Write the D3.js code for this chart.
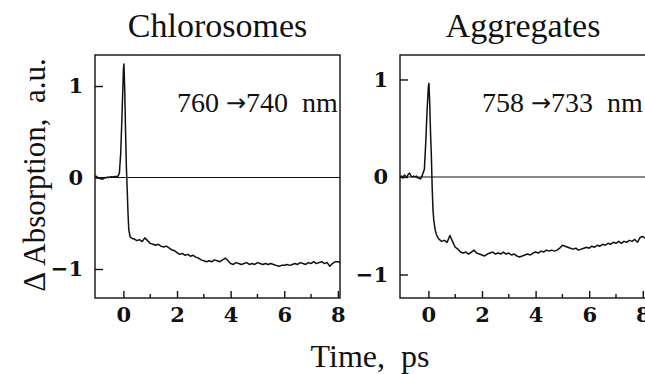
<!DOCTYPE html>
<html>
<head>
<meta charset="utf-8">
<script src="https://cdn.jsdelivr.net/npm/d3@7"></script>
<style>
  body { margin: 0; background: white; }
  text { font-family: 'Liberation Serif', 'Times New Roman', serif; fill: #111; }
  .tick text { font-family: 'DejaVu Serif', serif; }
</style>
</head>
<body>
<svg id="chart" width="645" height="374"></svg>
<script>
// delay times, ps (shared by both traces)
const time_ps = [
  -1.05, -1.0, -0.95, -0.9, -0.85, -0.8, -0.75, -0.7, -0.65, -0.6,
  -0.55, -0.5, -0.45, -0.4, -0.35, -0.3, -0.25, -0.2, -0.15, -0.1,
  -0.05,
  0, 0.02, 0.05, 0.08, 0.11, 0.14, 0.17, 0.2, 0.25, 0.3, 0.35,
  0.4, 0.5, 0.6, 0.7, 0.8, 0.9, 1.0, 1.1, 1.2, 1.3,
  1.4, 1.5, 1.6, 1.7, 1.8, 1.9, 2.0, 2.1, 2.2, 2.3,
  2.4, 2.5, 2.6, 2.7, 2.8, 2.9, 3.0, 3.1, 3.2, 3.3,
  3.4, 3.5, 3.6, 3.7, 3.8, 3.9, 4.0, 4.1, 4.2, 4.3,
  4.4, 4.5, 4.6, 4.7, 4.8, 4.9, 5.0, 5.1, 5.2, 5.3,
  5.4, 5.5, 5.6, 5.7, 5.8, 5.9, 6.0, 6.1, 6.2, 6.3,
  6.4, 6.5, 6.6, 6.7, 6.8, 6.9, 7.0, 7.1, 7.2, 7.3,
  7.4, 7.5, 7.6, 7.7, 7.8, 7.9, 8.0, 8.1
]

// chlorosomes, 760 -> 740 nm
const chlorosomes = [
  0.02, 0.01, 0.0, -0.01, -0.01, -0.02, -0.015, 0.0, -0.005, 0.005,
  0.0, 0.005, 0.01, 0.005, 0.01, 0.01, 0.012, 0.015, 0.05, 0.27,
  0.7,
  1.18, 1.24, 0.95, 0.5, 0.12, -0.12, -0.38, -0.57, -0.65, -0.66, -0.67,
  -0.67, -0.69, -0.68, -0.70, -0.66, -0.69, -0.72, -0.73, -0.74, -0.73,
  -0.75, -0.76, -0.75, -0.77, -0.79, -0.80, -0.82, -0.84, -0.83, -0.85,
  -0.84, -0.86, -0.85, -0.87, -0.88, -0.90, -0.91, -0.92, -0.91, -0.92,
  -0.90, -0.91, -0.92, -0.90, -0.88, -0.91, -0.94, -0.95, -0.93, -0.94,
  -0.95, -0.94, -0.93, -0.95, -0.94, -0.95, -0.93, -0.94, -0.95, -0.94,
  -0.95, -0.94, -0.95, -0.96, -0.97, -0.96, -0.96, -0.95, -0.96, -0.95,
  -0.94, -0.95, -0.93, -0.94, -0.95, -0.93, -0.94, -0.92, -0.94, -0.93,
  -0.92, -0.94, -0.93, -0.97, -0.94, -0.92, -0.92, -0.93
]

// aggregates, 758 -> 733 nm
const aggregates = [
  0.0, 0.01, -0.01, 0.02, 0.01, 0.0, 0.03, 0.04, 0.01, 0.0,
  0.01, 0.0, 0.01, -0.01, -0.01, -0.02, 0.0, 0.04, 0.08, 0.35,
  0.68,
  0.93, 0.96, 0.75, 0.45, 0.22, -0.1, -0.33, -0.44, -0.54, -0.59, -0.62,
  -0.64, -0.66, -0.65, -0.67, -0.60, -0.66, -0.72, -0.74, -0.77, -0.78,
  -0.77, -0.79, -0.77, -0.75, -0.78, -0.79, -0.80, -0.81, -0.79, -0.78,
  -0.77, -0.79, -0.78, -0.79, -0.77, -0.79, -0.78, -0.80, -0.79, -0.81,
  -0.82, -0.81, -0.80, -0.79, -0.80, -0.78, -0.77, -0.78, -0.76, -0.77,
  -0.75, -0.76, -0.75, -0.76, -0.75, -0.73, -0.70, -0.71, -0.72, -0.73,
  -0.74, -0.73, -0.75, -0.74, -0.73, -0.72, -0.73, -0.71, -0.72, -0.70,
  -0.71, -0.69, -0.70, -0.68, -0.69, -0.67, -0.68, -0.66, -0.68, -0.66,
  -0.67, -0.65, -0.66, -0.64, -0.67, -0.62, -0.61, -0.63
]

const x_major = [0, 2, 4, 6, 8]
const x_minor = [1, 3, 5, 7]
const y_ticks = [-1, 0, 1]

const svg = d3.select("#chart")
svg.append("rect").attr("width", 645).attr("height", 374).attr("fill", "white")

function drawPanel(p){
  let g = svg.append("g").attr("transform", `translate(${p.left},${p.top})`)
  let w = p.width, h = p.height

  let x = d3.scaleLinear().domain(p.xdom).range([0, w])
  let y = d3.scaleLinear().domain(p.ydom).range([h, 0])

  // zero line
  g.append("line")
    .attr("x1", 0).attr("x2", w)
    .attr("y1", y(0)).attr("y2", y(0))
    .attr("stroke", "#111").attr("stroke-width", 1.1)

  // x ticks, inward
  let xa = g.append("g").attr("transform", `translate(0,${h})`)
    .call(d3.axisBottom(x).tickValues(x_major).tickFormat(d3.format("d"))
      .tickSizeInner(-7).tickSizeOuter(0).tickPadding(9))
  xa.select(".domain").remove()
  xa.selectAll("line").attr("stroke", "#111").attr("stroke-width", 1.4)
  xa.selectAll("text").attr("font-size", 21).attr("font-weight", 600).attr("fill", "#111")

  g.selectAll(".minor").data(x_minor).join("line")
    .attr("x1", d => x(d)).attr("x2", d => x(d))
    .attr("y1", h).attr("y2", h - 4)
    .attr("stroke", "#111").attr("stroke-width", 1.4)

  // y ticks, inward
  let ya = g.append("g")
    .call(d3.axisLeft(y).tickValues(y_ticks).tickFormat(d3.format("d"))
      .tickSizeInner(-8).tickSizeOuter(0).tickPadding(12))
  ya.select(".domain").remove()
  ya.selectAll("line").attr("stroke", "#111").attr("stroke-width", 1.4)
  ya.selectAll("text").attr("font-size", 21).attr("font-weight", 600).attr("fill", "#111")

  // frame
  g.append("rect").attr("width", w).attr("height", h)
    .attr("fill", "none").attr("stroke", "#111").attr("stroke-width", 1.4)

  // trace
  let line = d3.line().x((d, i) => x(time_ps[i])).y(d => y(d))
  g.append("path").datum(p.values)
    .attr("d", line)
    .attr("fill", "none").attr("stroke", "#111")
    .attr("stroke-width", 1.5).attr("stroke-linejoin", "round")

  // title + wavelength note
  svg.append("text")
    .attr("x", p.left + w/2).attr("y", 37)
    .attr("text-anchor", "middle").attr("font-size", 34)
    .text(p.title)

  let note = svg.append("text")
    .attr("x", p.noteX).attr("y", 112)
    .attr("font-size", 28)
    .attr("xml:space", "preserve")
  note.append("tspan").text(p.from + " ")
  note.append("tspan")
    .style("font-family", "'DejaVu Sans', sans-serif")
    .attr("font-size", 24).attr("dy", -1)
    .text("\u2192")
  note.append("tspan").attr("dy", 1).text(p.to + "  nm")
}

drawPanel({left: 95, top: 55, width: 245, height: 243,
  xdom: [-1.06, 8.08], ydom: [-1.317, 1.339],
  values: chlorosomes, title: "Chlorosomes",
  from: "760", to: "740", noteX: 177})

drawPanel({left: 400, top: 55, width: 246, height: 243,
  xdom: [-1.06, 8.12], ydom: [-1.241, 1.251],
  values: aggregates, title: "Aggregates",
  from: "758", to: "733", noteX: 482})

// axis titles
svg.append("text")
  .attr("x", 370).attr("y", 367)
  .attr("text-anchor", "middle").attr("font-size", 32)
  .attr("xml:space", "preserve")
  .text("Time,  ps")

svg.append("text")
  .attr("transform", "translate(45,175) rotate(-90)")
  .attr("text-anchor", "middle").attr("font-size", 31)
  .attr("xml:space", "preserve")
  .text("\u0394 Absorption,  a.u.")
</script>
</body>
</html>
